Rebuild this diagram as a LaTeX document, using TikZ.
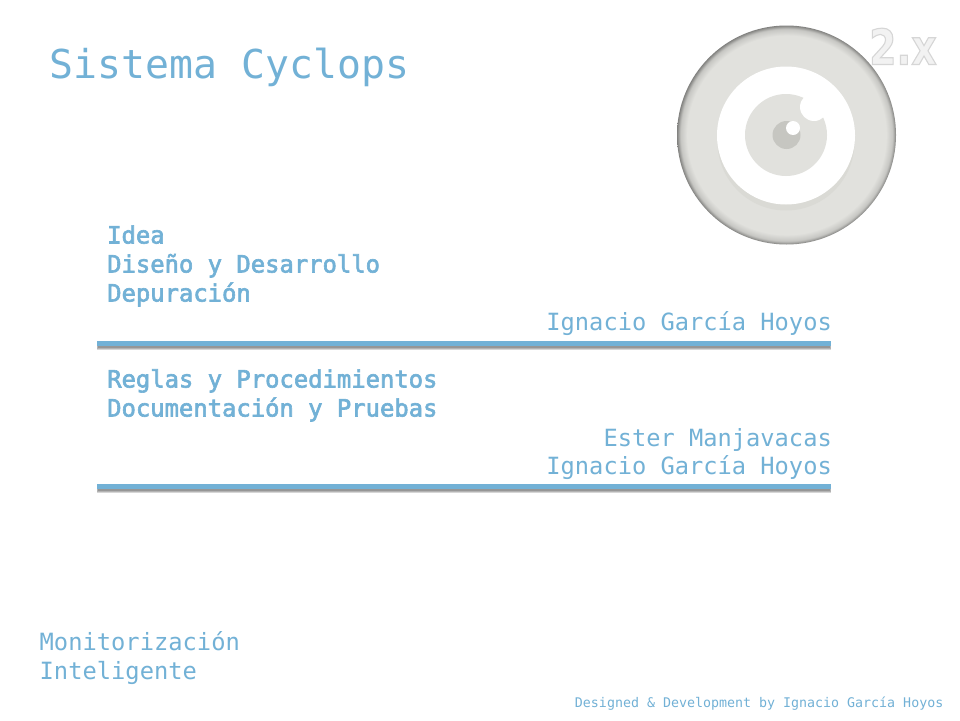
\documentclass[tikz,border=0pt]{standalone}
\usepackage{fontspec}
\setmainfont{DejaVu Sans Mono}
\newfontfamily\xfont[FakeStretch=0.8]{DejaVu Sans Bold}
\newcommand{\heavytext}[1]{\special{pdf:code 2 Tr 0.6 w}#1\special{pdf:code 0 Tr}}
\definecolor{cyblue}{HTML}{72B1D6}
\definecolor{eyegrey}{HTML}{E1E1DD}
\definecolor{crescent}{HTML}{DADAD5}
\definecolor{pupilgrey}{HTML}{C6C6C1}
\pgfdeclareradialshading{rimshade}{\pgfpoint{0bp}{0bp}}{color(0bp)=(eyegrey); color(22.7bp)=(eyegrey); color(24.2bp)=(black!12!eyegrey); color(25bp)=(black!42!eyegrey); color(50bp)=(black!42!eyegrey)}
\tikzset{
  x=1pt,y=-1pt,
  lbl/.style={inner sep=0pt,text=cyblue,anchor=base west},
  lblr/.style={inner sep=0pt,text=cyblue,anchor=base east},
  titletxt/.style={lbl,font=\fontsize{39.8}{40}\selectfont},
  headtxt/.style={lbl,font=\fontsize{23.85}{24}\selectfont},
  nametxt/.style={lblr,font=\fontsize{23.7}{24}\selectfont},
  sidetxt/.style={lbl,font=\fontsize{23.75}{24}\selectfont},
  foottxt/.style={lblr,font=\fontsize{13.3}{14}\selectfont},
  rulebar/.style={fill=cyblue,draw=none},
  shadowbar/.style={fill=black,draw=none,opacity=.16},
}
\begin{document}
\begin{tikzpicture}
\useasboundingbox[fill=white] (0,0) rectangle (960,720);
% version mark
\node[inner sep=0pt,anchor=base west,font=\xfont\fontsize{49}{49}\selectfont] (version) at (869,64.5)
  {\special{pdf:code 2 Tr 1.1 w 0.84 0.84 0.84 RG 0.95 0.95 0.95 rg}2.x\special{pdf:code 0 Tr 0 0 0 RG 0 0 0 rg}};
% eye
\shade[shading=rimshade] (786.5,135) circle (109.5);
\fill[crescent] (786,142) circle (68.5);
\fill[white] (786,135.5) circle (69);
\fill[eyegrey] (786,135) circle (41);
\fill[pupilgrey] (786.5,135) circle (14);
\fill[white] (793,128) circle (7);
\fill[white] (814,107) circle (14);
% rules
\foreach \o in {0,1,2}{
  \fill[shadowbar] (97+\o*.3,344) rectangle (831-\o*.3,350-\o*1.2);
  \fill[shadowbar] (97+\o*.3,487) rectangle (831-\o*.3,493-\o*1.2);
}
\fill[rulebar] (97,341) rectangle (831,345.5);
\fill[rulebar] (97,484) rectangle (831,489);
% texts
\node[titletxt] (title) at (49.5,78) {Sistema Cyclops};
\node[headtxt] (h1) at (107,243.5) {\heavytext{Idea}};
\node[headtxt] (h2) at (107,272.5) {\heavytext{Diseño y Desarrollo}};
\node[headtxt] (h3) at (107,301.5) {\heavytext{Depuración}};
\node[nametxt] (n1) at (832,330.5) {Ignacio García Hoyos};
\node[headtxt] (h4) at (107,387.5) {\heavytext{Reglas y Procedimientos}};
\node[headtxt] (h5) at (107,416.5) {\heavytext{Documentación y Pruebas}};
\node[nametxt] (n2) at (832,446) {Ester Manjavacas};
\node[nametxt] (n3) at (832,474.5) {Ignacio García Hoyos};
\node[sidetxt] (s1) at (39.5,650) {Monitorización};
\node[sidetxt] (s2) at (39.5,679) {Inteligente};
\node[foottxt] (foot) at (943.5,707) {Designed \& Development by Ignacio García Hoyos};
\end{tikzpicture}
\end{document}
